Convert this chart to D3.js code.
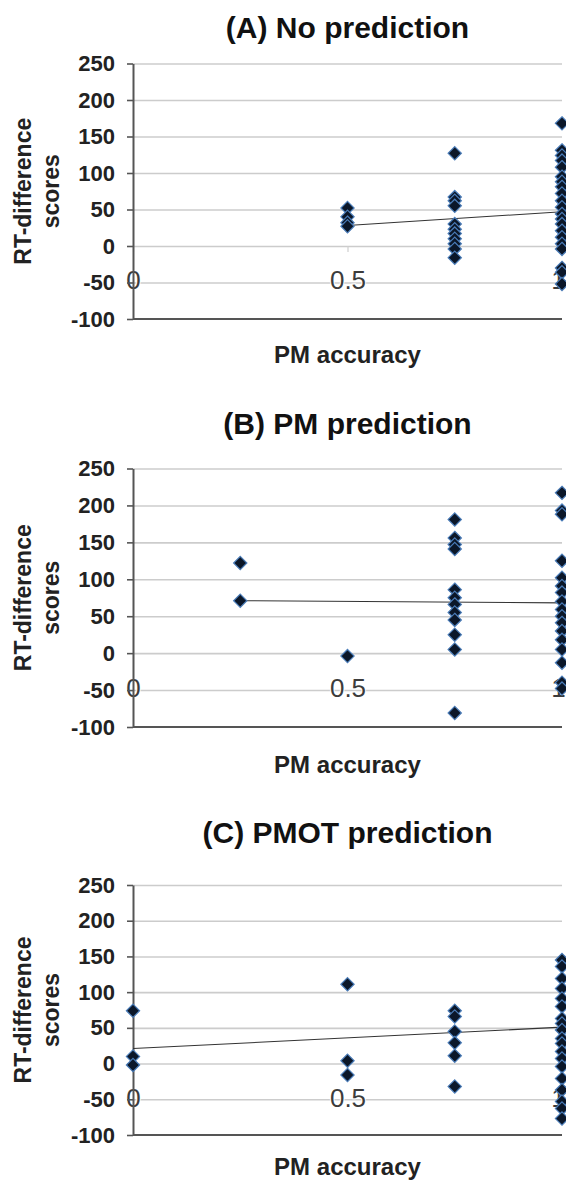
<!DOCTYPE html>
<html>
<head>
<meta charset="utf-8">
<script src="https://cdn.jsdelivr.net/npm/d3@7"></script>
<style>
body { margin: 0; background: #fff; }
svg { display: block; }
text { font-family: "Liberation Sans", Arial, sans-serif; }
</style>
</head>
<body>
<svg id="chart" width="566" height="1181"></svg>
<script>
var yTicks = [250, 200, 150, 100, 50, 0, -50, -100];
var xTicks = [0, 0.5, 1];
var xTickLabels = ["0", "0.5", "1"];
var titles = ["(A) No prediction", "(B) PM prediction", "(C) PMOT prediction"];

// (A) No prediction - scores per PM accuracy level
var a50 = [52, 40, 32, 27];
var a75 = [127, 67, 62, 55, 30, 23, 17, 10, 3, -4, -16];
var a100 = [168, 131, 124, 117, 108, 95, 88, 81, 72, 62, 53, 44, 37, 30, 21, 12, 3, -4, -30, -36, -52];
var trendA = [[0.5, 28], [1, 47]];

// (B) PM prediction
var b25 = [122, 71];
var b50 = [-4];
var b75 = [181, 156, 147, 141, 86, 75, 66, 55, 45, 25, 5, -81];
var b100 = [217, 193, 188, 125, 102, 91, 82, 70, 59, 50, 41, 30, 18, 5, -13, -40, -48];
var trendB = [[0.25, 71], [1, 68]];

// (C) PMOT prediction
var c0 = [74, 10, -2];
var c50 = [111, 4, -16];
var c75 = [74, 66, 45, 29, 11, -32];
var c100 = [145, 136, 119, 105, 91, 80, 63, 56, 47, 35, 28, 17, 7, -4, -21, -37, -53, -63, -77];
var trendC = [[0, 21], [1, 51]];

function pts(x, arr) {
    return arr.map(function(v) { return {x: x, y: v}; });
}

var panels = [
    {title: titles[0], trend: trendA,
     points: [].concat(pts(0.5, a50), pts(0.75, a75), pts(1, a100))},
    {title: titles[1], trend: trendB,
     points: [].concat(pts(0.25, b25), pts(0.5, b50), pts(0.75, b75), pts(1, b100))},
    {title: titles[2], trend: trendC,
     points: [].concat(pts(0, c0), pts(0.5, c50), pts(0.75, c75), pts(1, c100))}
];

var layout = [
    {top: 63.5, bottom: 319, titleY: 38, xlabY: 363},
    {top: 468.5, bottom: 727, titleY: 434, xlabY: 773},
    {top: 885, bottom: 1135, titleY: 843, xlabY: 1175}
];
var left = 133, right = 562;

var svg = d3.select("#chart");

panels.forEach(function(p, i) {
    var L = layout[i];
    var g = svg.append("g");
    var x = d3.scaleLinear().domain([0, 1]).range([left, right]);
    var y = d3.scaleLinear().domain([-100, 250]).range([L.bottom, L.top]);

    // gridlines
    var grid = g.append("g")
        .attr("transform", "translate(" + left + ",0)")
        .call(d3.axisLeft(y).tickValues(yTicks.filter(function(d) { return d > -100; }))
            .tickSize(-(right - left)).tickFormat(""));
    grid.select(".domain").remove();
    grid.selectAll("line").attr("stroke", "#cccccc").attr("stroke-width", 1.6);

    // x tick labels (the horizontal axis crosses at y = 0)
    var xAxis = g.append("g")
        .attr("transform", "translate(0," + y(0) + ")")
        .call(d3.axisBottom(x).tickValues(xTicks)
            .tickFormat(function(d, j) { return xTickLabels[j]; })
            .tickSize(6).tickPadding(19));
    xAxis.select(".domain").remove();
    xAxis.selectAll("line").attr("stroke", "#cfcfcf").attr("stroke-width", 1.2);
    xAxis.selectAll("text")
        .attr("font-size", 26).attr("fill", "#3c3c3c")
        .attr("stroke", "#fff").attr("stroke-width", 2).attr("paint-order", "stroke")
        .style("font-family", "'Liberation Sans', Arial, sans-serif");
    // last label sits at the right edge, keep it inside the page
    xAxis.selectAll(".tick").filter(function(d) { return d === 1; })
        .select("text").attr("dx", -4);

    // y axis
    var yAxis = g.append("g")
        .attr("transform", "translate(" + left + ",0)")
        .call(d3.axisLeft(y).tickValues(yTicks).tickSize(6).tickSizeOuter(0).tickPadding(12)
            .tickFormat(function(d) { return String(d); }));
    yAxis.select(".domain").attr("stroke", "#555").attr("stroke-width", 2);
    yAxis.selectAll("line").attr("stroke", "#555").attr("stroke-width", 1.6);
    yAxis.selectAll("text")
        .attr("font-size", 22).attr("font-weight", "bold").attr("fill", "#222")
        .style("font-family", "'Liberation Sans', Arial, sans-serif");

    // bottom axis line
    g.append("line")
        .attr("x1", x(0)).attr("x2", x(1))
        .attr("y1", y(-100)).attr("y2", y(-100))
        .attr("stroke", "#555").attr("stroke-width", 2);

    // trend line
    g.append("path")
        .datum(p.trend)
        .attr("fill", "none").attr("stroke", "#333").attr("stroke-width", 1.1)
        .attr("d", d3.line().x(function(d) { return x(d[0]); }).y(function(d) { return y(d[1]); }));

    // markers
    g.selectAll("path.pt").data(p.points).enter()
        .append("path")
        .attr("class", "pt")
        .attr("d", d3.symbol().type(d3.symbolDiamond2).size(112))
        .attr("transform", function(d) { return "translate(" + x(d.x) + "," + y(d.y) + ")"; })
        .attr("fill", "#0b1729")
        .attr("stroke", "#4a7cb8").attr("stroke-width", 1.2);

    // title
    g.append("text")
        .attr("x", (left + right) / 2).attr("y", L.titleY)
        .attr("text-anchor", "middle")
        .attr("font-size", 30).attr("font-weight", "bold").attr("fill", "#111")
        .text(p.title);

    // x axis title
    g.append("text")
        .attr("x", (left + right) / 2).attr("y", L.xlabY)
        .attr("text-anchor", "middle")
        .attr("font-size", 24).attr("font-weight", "bold").attr("fill", "#222")
        .text("PM accuracy");

    // y axis title
    var yc = (L.top + L.bottom) / 2;
    var yt = g.append("text")
        .attr("transform", "translate(0," + yc + ") rotate(-90)")
        .attr("text-anchor", "middle")
        .attr("font-size", 23).attr("font-weight", "bold").attr("fill", "#222");
    yt.append("tspan").attr("x", 0).attr("y", 31).text("RT-difference");
    yt.append("tspan").attr("x", 0).attr("y", 58.5).text("scores");
});
</script>
</body>
</html>
